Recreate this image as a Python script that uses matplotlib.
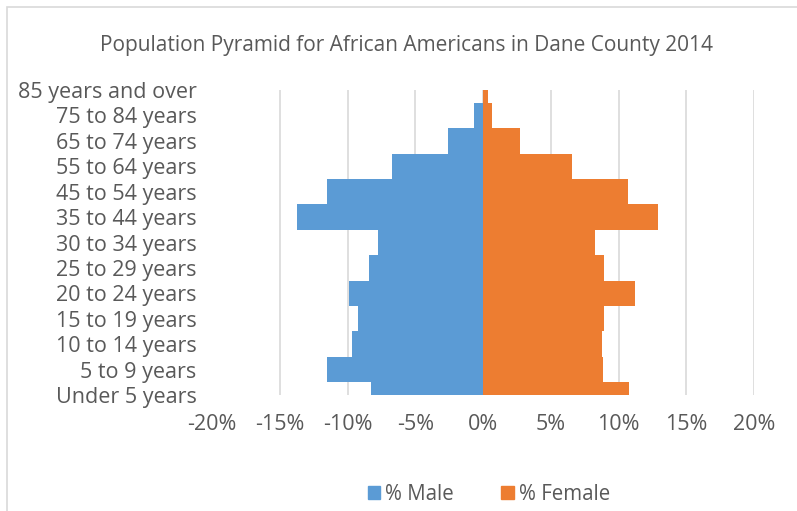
import matplotlib.pyplot as plt
from matplotlib.patches import Rectangle, Patch
from matplotlib.ticker import FuncFormatter

# age groups, bottom to top
age_groups = ["Under 5 years", "5 to 9 years", "10 to 14 years", "15 to 19 years",
              "20 to 24 years", "25 to 29 years", "30 to 34 years", "35 to 44 years",
              "45 to 54 years", "55 to 64 years", "65 to 74 years", "75 to 84 years",
              "85 years and over"]
male_pct = [-8.3, -11.5, -9.7, -9.25, -9.9, -8.45, -7.75, -13.7, -11.5, -6.7, -2.6, -0.7, 0.0]
female_pct = [10.8, 8.85, 8.8, 8.9, 11.2, 8.95, 8.25, 12.9, 10.7, 6.6, 2.75, 0.7, 0.4]
x_ticks = [-20, -15, -10, -5, 0, 5, 10, 15, 20]

blue = "#5B9BD5"
orange = "#ED7D31"
text_col = "#595959"
grid_col = "#D9D9D9"

plt.rcParams['font.family'] = ['Open Sans', 'DejaVu Sans']

fig = plt.figure(figsize=(7.97, 5.11), dpi=100)
ax = fig.add_axes([212 / 797, 1 - 395 / 511, (754 - 212) / 797, (395 - 90) / 511])

ypos = list(range(len(age_groups)))
ax.barh(ypos, male_pct, height=1.0, color=blue, zorder=2)
ax.barh(ypos, female_pct, height=1.0, color=orange, zorder=2)

# axis runs from centre of first to centre of last category, so end bars are half shown
ax.set_xlim(-20, 20)
ax.set_ylim(0, len(age_groups) - 1)
for t in x_ticks[1:]:
    ax.axvline(t, color=grid_col, lw=1.2, zorder=1)

ax.set_xticks(x_ticks)
ax.xaxis.set_major_formatter(FuncFormatter(lambda v, p: f"{int(v)}%"))
ax.set_yticks(ypos)
ax.set_yticklabels(age_groups)
ax.tick_params(axis='x', length=0, pad=14, labelsize=15.5, labelcolor=text_col)
ax.tick_params(axis='y', length=0, pad=11, labelsize=15.5, labelcolor=text_col)
for s in ax.spines.values():
    s.set_visible(False)

fig.text(406 / 797, 1 - 45 / 511, "Population Pyramid for African Americans in Dane County 2014",
         ha='center', va='center', fontsize=15, color=text_col)

handles = [Patch(color=blue, label="% Male"), Patch(color=orange, label="% Female")]
fig.legend(handles=handles, loc='center', bbox_to_anchor=(489 / 797, 1 - 494 / 511), ncol=2,
           frameon=False, fontsize=14.8, labelcolor=text_col, handlelength=0.6,
           handleheight=0.6, handletextpad=0.25, columnspacing=2.3)

# chart area border (cut off at right and bottom)
fig.patches.append(Rectangle((6.5 / 797, -0.1), 1.2, 1 - 7 / 511 + 0.1, transform=fig.transFigure,
                             fill=False, edgecolor=grid_col, lw=1.2))

plt.savefig('out.png', dpi=100)
